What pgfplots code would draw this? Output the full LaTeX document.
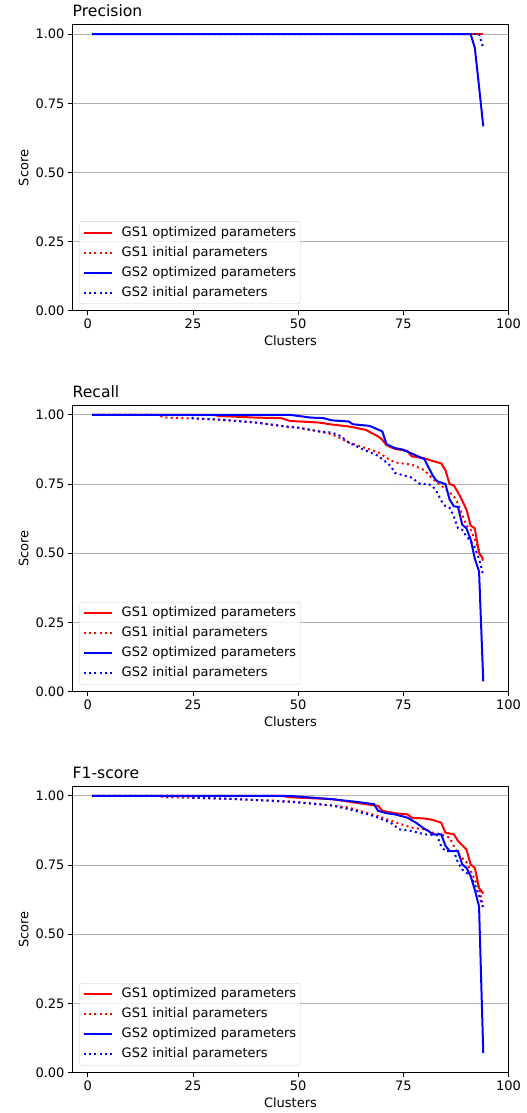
\documentclass[border=0pt]{standalone}
\usepackage{fontspec}
\setmainfont{DejaVu Sans}
\usepackage{pgfplots}
\pgfplotsset{compat=1.18}
\definecolor{mplgrid}{HTML}{B0B0B0}
\definecolor{mplred}{HTML}{FF0000}
\definecolor{mplblue}{HTML}{0000FF}

\newcommand{\tickfont}{\fontsize{13}{15.6}\selectfont}
\pgfplotsset{
  panel/.style={
    width=436pt, height=286pt, scale only axis,
    xmin=-3.65, xmax=100, ymin=0, ymax=1.033,
    xtick={0,25,50,75,100},
    ytick={0,0.25,0.5,0.75,1},
    yticklabel style={/pgf/number format/fixed,/pgf/number format/fixed zerofill,/pgf/number format/precision=2},
    /pgf/number format/assume math mode=true,
    ticklabel style={font=\tickfont},
    label style={font=\tickfont},
    tick align=outside, xtick pos=bottom, ytick pos=left,
    major tick length=4.5pt,
    every tick/.style={black,line width=1pt},
    axis line style={black,line width=1pt},
    ymajorgrids, grid style={mplgrid,line width=1pt},
    xlabel={Clusters}, ylabel={Score},
    title style={at={(0,1)},anchor=base west,yshift=2pt,inner sep=0pt,font=\fontsize{15.6}{18}\selectfont},
    legend cell align=left,
    legend image code/.code={\draw[##1] (0pt,0pt) -- (28pt,0pt);},
    legend style={at={(0,0)},anchor=south west,xshift=7pt,yshift=7pt,
      draw=black!20,fill=white,fill opacity=0.8,text opacity=1,
      rounded corners=2pt,inner xsep=3pt,inner ysep=4pt,
      font=\tickfont,row sep=5.8pt,
      nodes={inner sep=1pt,text height=9.5pt,text depth=2.7pt},
      /tikz/every odd column/.append style={column sep=8pt}},
  },
  gsopt/.style={line width=2pt,line cap=butt},
  gsini/.style={line width=2pt,line cap=butt,dash pattern=on 2pt off 3.3pt},
}

\begin{document}
\begin{tikzpicture}
\useasboundingbox (0,0) rectangle (527pt,1113pt);

% ---- Precision
\begin{axis}[panel, at={(72.5pt,802pt)}, anchor=south west, title={Precision}]
\addplot[gsopt,mplred] coordinates {(1,1.0) (94,1.0)};
\addlegendentry{GS1 optimized parameters}
\addplot[gsini,mplred] coordinates {(1,1.0) (94,1.0)};
\addlegendentry{GS1 initial parameters}
\addplot[gsopt,mplblue] coordinates {(1,1.0) (91,1.0) (92,0.95) (93,0.81) (94,0.667)};
\addlegendentry{GS2 optimized parameters}
\addplot[gsini,mplblue] coordinates {(1,1.0) (93,1.0) (94,0.95)};
\addlegendentry{GS2 initial parameters}
\end{axis}

% ---- Recall
\begin{axis}[panel, at={(72.5pt,421.3pt)}, anchor=south west, title={Recall}]
\addplot[gsopt,mplred] coordinates {
 (1,1.0) (30,1.0) (31,0.996) (40,0.99) (46,0.988) (48,0.978) (55,0.972) (58,0.965)
 (62,0.958) (66,0.946) (68,0.93) (69,0.922) (70,0.91) (71,0.89) (73,0.877) (76,0.869)
 (77,0.85) (80,0.843) (82,0.833) (84,0.825) (85,0.80) (86,0.75) (87,0.745) (88,0.72)
 (89,0.69) (90,0.658) (91,0.60) (92,0.59) (93,0.50) (94,0.479)};
\addlegendentry{GS1 optimized parameters}
\addplot[gsini,mplred] coordinates {
 (1,1.0) (17,1.0) (18,0.99) (25,0.987) (32,0.982) (40,0.972) (48,0.956) (50,0.953)
 (55,0.94) (58,0.93) (60,0.915) (62,0.90) (66,0.88) (69,0.865) (71,0.845) (73,0.828)
 (77,0.82) (80,0.80) (82,0.768) (84,0.745) (87,0.706) (88,0.68) (89,0.64) (90,0.60)
 (91,0.585) (92,0.55) (93,0.51) (94,0.47)};
\addlegendentry{GS1 initial parameters}
\addplot[gsopt,mplblue] coordinates {
 (1,1.0) (48,1.0) (53,0.99) (56,0.988) (58,0.98) (62,0.976) (63,0.966) (67,0.96)
 (70,0.94) (71,0.894) (73,0.88) (75,0.874) (77,0.86) (80,0.84) (81,0.81) (82,0.78)
 (83,0.76) (85,0.75) (86,0.694) (87,0.67) (88,0.667) (89,0.603) (90,0.59) (91,0.55)
 (92,0.48) (93,0.434) (94,0.037)};
\addlegendentry{GS2 optimized parameters}
\addplot[gsini,mplblue] coordinates {
 (1,1.0) (24,1.0) (25,0.987) (32,0.982) (40,0.972) (48,0.956) (50,0.954) (55,0.94)
 (58,0.936) (60,0.924) (62,0.90) (65,0.878) (69,0.852) (70,0.84) (72,0.815) (73,0.79)
 (77,0.773) (79,0.75) (81,0.75) (82,0.742) (83,0.72) (84,0.69) (85,0.67) (86,0.664)
 (87,0.633) (88,0.59) (89,0.585) (90,0.561) (91,0.545) (92,0.52) (93,0.48) (94,0.42)};
\addlegendentry{GS2 initial parameters}
\end{axis}

% ---- F1-score
\begin{axis}[panel, at={(72.5pt,40.3pt)}, anchor=south west, title={F1-score}]
\addplot[gsopt,mplred] coordinates {
 (1,1.0) (46,1.0) (48,0.995) (58,0.988) (66,0.97) (69,0.964) (70,0.946) (73,0.937)
 (76,0.933) (77,0.921) (80,0.918) (82,0.913) (84,0.903) (85,0.867) (87,0.861) (88,0.837)
 (90,0.806) (91,0.752) (92,0.74) (93,0.667) (94,0.647)};
\addlegendentry{GS1 optimized parameters}
\addplot[gsini,mplred] coordinates {
 (1,1.0) (17,1.0) (18,0.995) (25,0.993) (32,0.99) (40,0.985) (48,0.98) (55,0.97)
 (58,0.965) (62,0.958) (66,0.94) (69,0.927) (73,0.905) (77,0.885) (80,0.879) (82,0.867)
 (84,0.861) (86,0.849) (87,0.819) (88,0.79) (89,0.775) (90,0.76) (91,0.73) (92,0.698)
 (93,0.667) (94,0.60)};
\addlegendentry{GS1 initial parameters}
\addplot[gsopt,mplblue] coordinates {
 (1,1.0) (48,1.0) (52,0.995) (58,0.988) (64,0.978) (68,0.97) (69,0.946) (71,0.937)
 (73,0.933) (76,0.921) (78,0.903) (80,0.881) (81,0.873) (82,0.861) (84,0.861) (85,0.82)
 (86,0.80) (88,0.80) (89,0.752) (90,0.74) (91,0.71) (92,0.66) (93,0.60) (94,0.071)};
\addlegendentry{GS2 optimized parameters}
\addplot[gsini,mplblue] coordinates {
 (1,1.0) (24,1.0) (25,0.993) (32,0.99) (40,0.985) (48,0.978) (50,0.976) (58,0.965)
 (62,0.952) (68,0.927) (72,0.903) (74,0.879) (77,0.873) (80,0.861) (83,0.857) (84,0.818)
 (85,0.80) (87,0.80) (88,0.758) (89,0.734) (91,0.71) (92,0.68) (93,0.64) (94,0.595)};
\addlegendentry{GS2 initial parameters}
\end{axis}
\end{tikzpicture}
\end{document}
